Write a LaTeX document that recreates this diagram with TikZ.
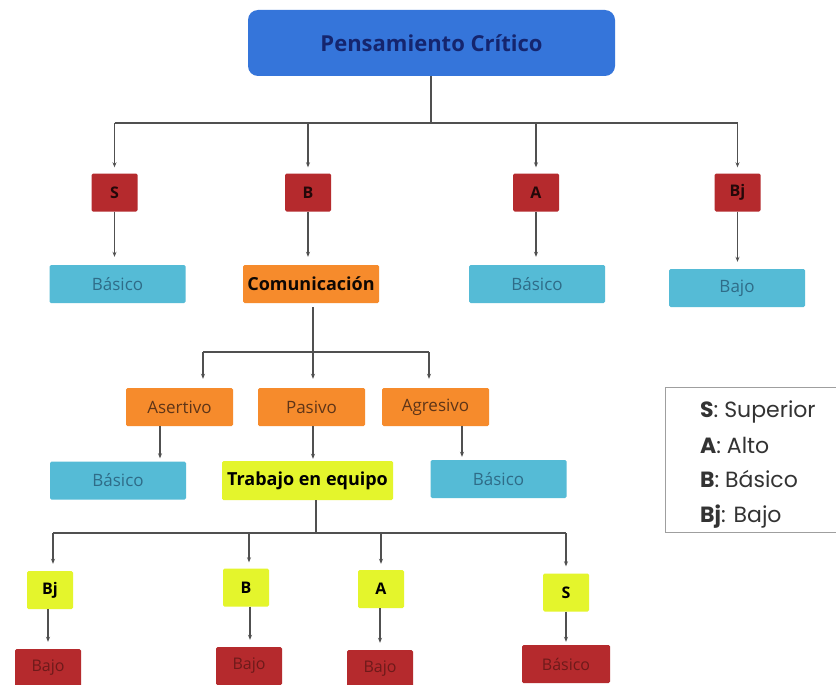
\documentclass[tikz,border=0pt]{standalone}
\usepackage{fontspec}
\setmainfont{Open Sans}
\newfontfamily\legfont{Poppins}
\usetikzlibrary{arrows.meta}
\definecolor{topblue}{HTML}{3575DA}
\definecolor{navy}{HTML}{15256E}
\definecolor{rbox}{HTML}{B52A2D}
\definecolor{cbox}{HTML}{55BBD6}
\definecolor{ctext}{HTML}{2F6C88}
\definecolor{obox}{HTML}{F68B2C}
\definecolor{otext}{HTML}{5E3518}
\definecolor{ybox}{HTML}{E4F52C}
\definecolor{linec}{HTML}{505050}
\definecolor{rtext}{HTML}{6E1A1A}
\definecolor{legtext}{HTML}{333333}
\begin{document}
\begin{tikzpicture}[x=1pt,y=-1pt,
  bx/.style={rectangle, inner sep=0pt, minimum height=38pt, rounded corners=1.5pt},
  redk/.style={bx, fill=rbox, minimum width=46pt, font=\fontsize{16}{16}\selectfont\bfseries, text=black!80!rbox},
  redb/.style={bx, fill=rbox, minimum width=66pt, font=\fontsize{16}{16}\selectfont, text=rtext},
  cyanb/.style={bx, fill=cbox, minimum width=136pt, font=\fontsize{17}{17}\selectfont, text=ctext},
  orab/.style={bx, fill=obox, minimum width=107pt, font=\fontsize{17}{17}\selectfont, text=otext},
  yelk/.style={bx, fill=ybox, minimum width=46pt, font=\fontsize{16}{16}\selectfont\bfseries, text=black},
  conn/.style={draw=linec, line width=1.2pt},
  arr/.style={conn, -{Stealth[length=5pt,width=4pt]}},
  legt/.style={anchor=base west, inner sep=0pt, text=legtext, font=\legfont\fontsize{22}{22}\selectfont},
]
\useasboundingbox (0,0) rectangle (836,685);
\clip (0,0) rectangle (836,685);
\fill[white] (0,0) rectangle (836,685);

% top
\node[rectangle, fill=topblue, rounded corners=10pt, minimum width=367pt, minimum height=66pt,
      font=\fontsize{22}{22}\selectfont\bfseries, text=navy] (top) at (431.5,43) {Pensamiento Crítico};

% first level
\node[redk] (rS) at (114.5,192.5) {S};
\node[redk] (rB) at (308,192.5) {B};
\node[redk] (rA) at (536,192.5) {A};
\node[redk] (rBj) at (737.5,192.5) {Bj};

% second level
\node[cyanb] (cb1) at (117.5,284) {Básico};
\node[bx, fill=obox, minimum width=136pt, font=\fontsize{18}{18}\selectfont\bfseries, text=black!85!otext] (comm) at (311,284) {Comunicación};
\node[cyanb] (cb2) at (537,284) {Básico};
\node[cyanb] (cb3) at (737,288) {Bajo};

% orange level
\node[orab] (aser) at (179.5,407) {Asertivo};
\node[orab] (pas) at (311.5,407) {Pasivo};
\node[orab] (agr) at (435.5,407) {Agresivo};

% fourth level
\node[cyanb] (cb4) at (118,480.5) {Básico};
\node[bx, fill=ybox, minimum width=171pt, minimum height=39pt, font=\fontsize{18}{18}\selectfont\bfseries, text=black] (trab) at (307.5,480.5) {Trabajo en equipo};
\node[cyanb] (cb5) at (498.5,479) {Básico};

% yellow level
\node[yelk] (yBj) at (50,590) {Bj};
\node[yelk] (yB) at (246,587.5) {B};
\node[yelk] (yA) at (381,589) {A};
\node[yelk] (yS) at (566,592.5) {S};

% bottom red
\node[redb] (b1) at (48,668) {Bajo};
\node[redb] (b2) at (249,666) {Bajo};
\node[redb] (b3) at (380,669) {Bajo};
\node[redb, minimum width=88pt] (b4) at (566,664) {Básico};

% connectors: top
\coordinate (bus1) at (431,123);
\draw[conn] (bus1 |- top.south) -- (bus1);
\draw[conn] (rS.north |- bus1) -- (rBj.north |- bus1);
\foreach \n in {rS,rB,rA,rBj}{
  \draw[arr, shorten >=6pt] (\n.north |- bus1) -- (\n.north);
}
\draw[arr, shorten >=8pt] (rS.south) -- (rS.south |- cb1.north);
\draw[arr, shorten >=8pt] (rB.south) -- (rB.south |- comm.north);
\draw[arr, shorten >=8pt] (rA.south) -- (rA.south |- cb2.north);
\draw[arr, shorten >=7pt] (rBj.south) -- (rBj.south |- cb3.north);

% comunicacion bus
\coordinate (bus2) at (313,352);
\coordinate (b2l) at (203,352);
\coordinate (b2r) at (429,352);
\draw[conn, shorten <=4pt] (bus2 |- comm.south) -- (bus2);
\draw[conn] (b2l) -- (b2r);
\draw[arr, shorten >=9pt] (b2l) -- (b2l |- aser.north);
\draw[arr, shorten >=9pt] (bus2) -- (bus2 |- pas.north);
\draw[arr, shorten >=9pt] (b2r) -- (b2r |- agr.north);

% orange to fourth level
\coordinate (xa) at (160,0);
\coordinate (xp) at (313,0);
\coordinate (xg) at (462,0);
\draw[arr, shorten >=3pt] (aser.south -| xa) -- (cb4.north -| xa);
\draw[arr, shorten >=2pt] (pas.south -| xp) -- (trab.north -| xp);
\draw[arr, shorten >=3pt] (agr.south -| xg) -- (cb5.north -| xg);

% trabajo bus
\coordinate (bus3) at (316,533);
\coordinate (x1) at (53,533);
\coordinate (x2) at (249,533);
\coordinate (x3) at (381,533);
\coordinate (x4) at (566,533);
\draw[conn] (bus3 |- trab.south) -- (bus3);
\draw[conn] (x1) -- (x4);
\draw[arr, shorten >=7pt] (x1) -- (x1 |- yBj.north);
\draw[arr, shorten >=6pt] (x2) -- (x2 |- yB.north);
\draw[arr, shorten >=6pt] (x3) -- (x3 |- yA.north);
\draw[arr, shorten >=7pt] (x4) -- (x4 |- yS.north);

% yellow to bottom red
\coordinate (y1) at (48,0);
\coordinate (y2) at (250,0);
\coordinate (y3) at (380,0);
\coordinate (y4) at (566,0);
\draw[arr, shorten >=7pt] (yBj.south -| y1) -- (b1.north -| y1);
\draw[arr, shorten >=7pt] (yB.south -| y2) -- (b2.north -| y2);
\draw[arr, shorten >=7pt] (yA.south -| y3) -- (b3.north -| y3);
\draw[arr, shorten >=3pt] (yS.south -| y4) -- (b4.north -| y4);

% legend
\node[draw=gray!75, line width=1pt, rectangle, anchor=north west, minimum width=190pt, minimum height=145pt, inner sep=0pt] (leg) at (665,387) {};
\node[legt] (l1) at (700,417) {\textbf{S}: Superior};
\node[legt] (l2) at (700,453) {\textbf{A}: Alto};
\node[legt] (l3) at (700,487) {\textbf{B}: Básico};
\node[legt] (l4) at (700,522) {\textbf{Bj}: Bajo};
\end{tikzpicture}
\end{document}
